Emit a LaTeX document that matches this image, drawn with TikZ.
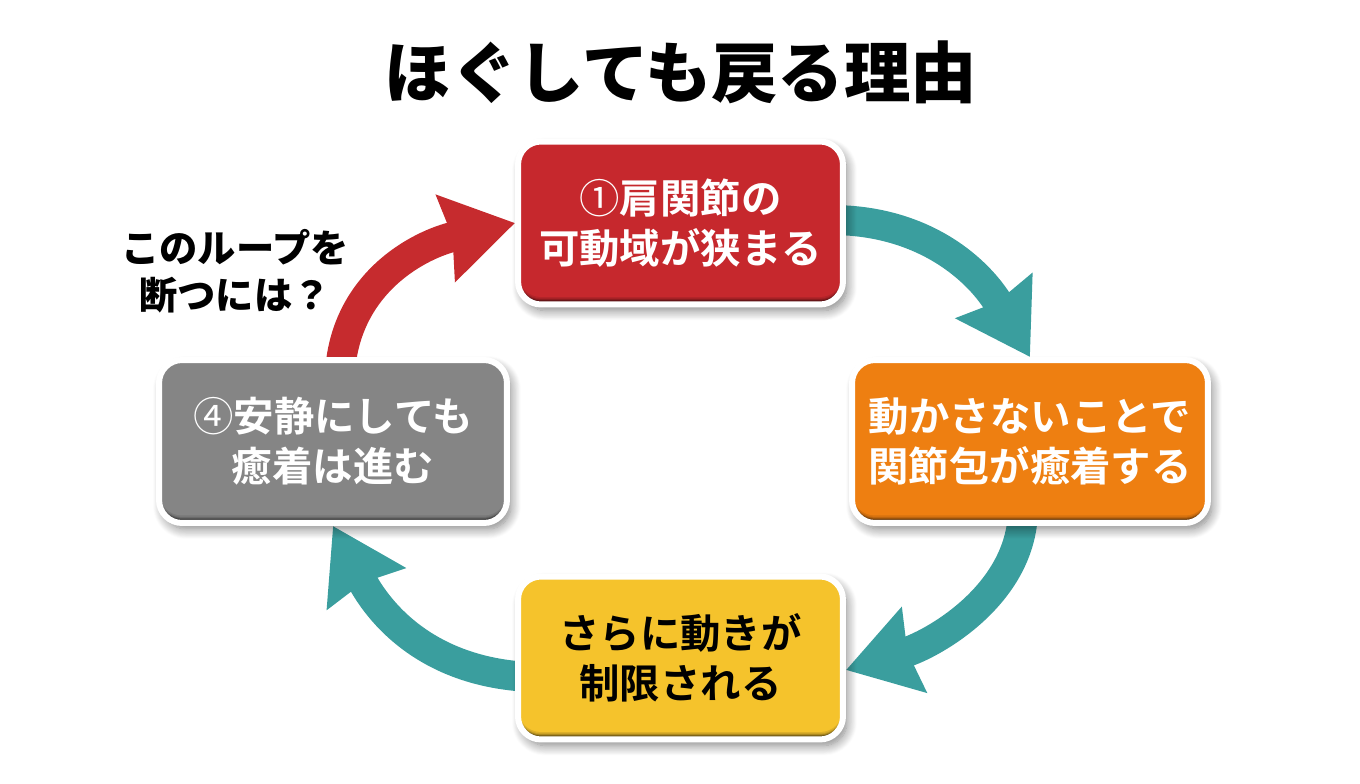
\documentclass[tikz,border=0pt]{standalone}
\usepackage{fontspec}
\setmainfont{Noto Sans CJK JP}[BoldFont=* Bold]
\newfontfamily\heavyfont{Noto Sans CJK JP}[UprightFont=* Black]
\usetikzlibrary{arrows.meta, shadows.blur}

\pgfdeclarelayer{back}
\pgfsetlayers{back,main}

\definecolor{boxred}{HTML}{C6282D}
\definecolor{boxorange}{HTML}{EE7F11}
\definecolor{boxyellow}{HTML}{F5C32C}
\definecolor{boxgray}{HTML}{858585}
\definecolor{loopteal}{HTML}{3A9E9E}
\definecolor{loopred}{HTML}{C62B2E}

\tikzset{
	stepbox/.style={
		rectangle, draw=white, line width=0.12cm, rounded corners=0.46cm,
		fill=#1!45!black, minimum height=3.26cm, align=center,
		font=\fontsize{23}{28.5}\selectfont\bfseries,
		blur shadow={shadow xshift=0.08cm, shadow yshift=-0.12cm, shadow blur radius=0.2cm, shadow blur steps=12, shadow opacity=50},
		path picture={
			\foreach \lift/\mix in {0.08/65, 0.10/80, 0.12/90, 0.15/100} {
				\fill[#1!\mix!black]
					([yshift=\lift cm]path picture bounding box.south west)
					rectangle (path picture bounding box.north east);
			}
		}
	},
	looparrow/.style={
		line width=0.6cm, draw=#1,
		-{Stealth[length=1.4cm, width=1.72cm, inset=0.12cm]}
	}
}

\begin{document}
\begin{tikzpicture}[x=0.02cm, y=-0.02cm]
	\useasboundingbox (0, 0) rectangle (1360, 784);

	\node [font=\fontsize{37.8}{46}\heavyfont] (title) at (681, 72) {ほぐしても戻る理由};

	\node [stepbox=boxred, minimum width=6.5cm, text=white] (box_1) at (680.5, 223) {{\mdseries ①}肩関節の\\可動域が狭まる};
	\node [stepbox=boxorange, minimum width=7.12cm, text=white] (box_2) at (1030, 441.5) {動かさないことで\\関節包が癒着する};
	\node [stepbox=boxyellow, minimum width=6.5cm, text=black] (box_3) at (680.5, 658) {さらに動きが\\制限される};
	\node [stepbox=boxgray, minimum width=6.96cm, text=white] (box_4) at (333, 441.5) {{\mdseries ④}安静にしても\\癒着は進む};

	\node [font=\fontsize{21.8}{27}\heavyfont, align=center] (question) at (235, 271) {このループを\\断つには？};

	\begin{pgfonlayer}{back}
		\draw[looparrow=loopteal] ([xshift=-0.3cm, yshift=0.06cm]box_1.east) .. controls +(95, 0) and +(-50, -85) .. (box_2.north);
		\draw[looparrow=loopteal] ([xshift=-0.14cm, yshift=0.3cm]box_2.south) .. controls +(-2, 85) and +(85, -25) .. ([yshift=-0.24cm]box_3.east);
		\draw[looparrow=loopteal] ([xshift=0.3cm, yshift=-0.38cm]box_3.west) .. controls +(-105, -5) and +(45, 85) .. (box_4.south);
		\draw[looparrow=loopred] ([xshift=0.14cm, yshift=-0.3cm]box_4.north) .. controls +(6, -90) and +(-95, 21) .. (box_1.west);
	\end{pgfonlayer}
\end{tikzpicture}
\end{document}
